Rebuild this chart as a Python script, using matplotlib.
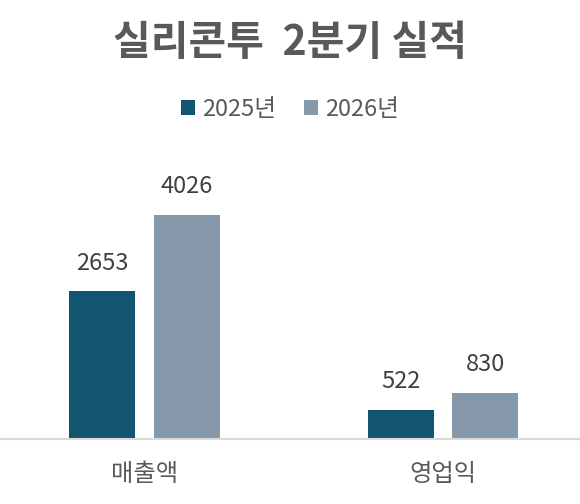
import matplotlib
matplotlib.use('Agg')
import matplotlib.pyplot as plt
import numpy as np

plt.rcParams['font.family'] = ['Noto Sans CJK KR', 'DejaVu Sans']

categories = ['매출액', '영업익']
series_names = ['2025년', '2026년']
values_2025 = [2653, 522]
values_2026 = [4026, 830]
colors = ['#135571', '#8699AA']

fig = plt.figure(figsize=(5.8, 5.04), dpi=100)
ax = fig.add_axes([0, 0.129, 1, 0.552])

x = np.arange(len(categories))
w = 0.221
off = 0.142
b1 = ax.bar(x - off, values_2025, w, color=colors[0], label=series_names[0])
b2 = ax.bar(x + off, values_2026, w, color=colors[1], label=series_names[1])

for bars in (b1, b2):
    for r in bars:
        ax.annotate(f'{int(r.get_height())}', (r.get_x() + r.get_width() / 2, r.get_height()),
                    xytext=(0, 12), textcoords='offset points', ha='center', va='bottom',
                    fontsize=17, color='#404040')

ax.set_xlim(-0.484, 1.459)
ax.set_ylim(0, 5000)
ax.set_xticks(x)
ax.set_xticklabels(categories, fontsize=17.5, color='#595959')
ax.tick_params(axis='x', length=0, pad=16)
ax.set_yticks([])
for s in ['top', 'left', 'right']:
    ax.spines[s].set_visible(False)
ax.spines['bottom'].set_color('#D9D9D9')
ax.spines['bottom'].set_linewidth(1.5)

fig.text(0.5, 0.915, '실리콘투  2분기 실적', ha='center', va='center', fontsize=29.5,
         fontweight='bold', color='#595959')
fig.legend(loc='center', bbox_to_anchor=(0.5, 0.783), ncol=2, frameon=False, fontsize=17,
           handlelength=0.6, handleheight=0.6, handletextpad=0.3, columnspacing=1.2,
           labelcolor='#595959')

fig.savefig('out.png', dpi=100)
